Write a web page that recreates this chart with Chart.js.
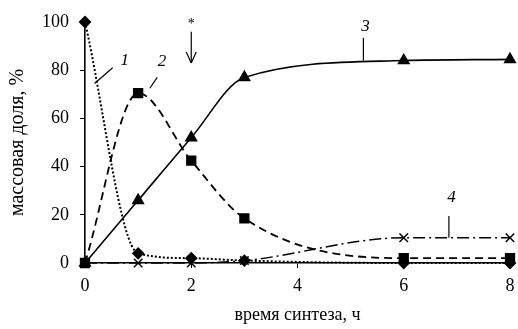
<!DOCTYPE html>
<html>
<head>
<meta charset="utf-8">
<script src="https://cdn.jsdelivr.net/npm/chart.js@4"></script>
<style>
  body { margin: 0; background: #fff; }
  #wrap { width: 518px; height: 329px; }
</style>
</head>
<body>
<div id="wrap"><canvas id="synthGraph"></canvas></div>
<script>
const hours = [0, 1, 2, 3, 6, 8],
      curve1 = [100, 4, 2, 1, 0, 0],
      curve2 = [0, 70.5, 42.5, 18.5, 2, 2],
      curve3 = [0, 26, 52, 77, 84, 84.5],
      curve4 = [0, 0, 0, 1, 10.5, 10.5],
      xTicks = [0, 2, 4, 6, 8],
      yTicks = [0, 20, 40, 60, 80, 100];

const pts = vals => hours.map((h, i) => ({x: h, y: vals[i]}));
const serif = 'Liberation Serif, Times New Roman, serif';

// curve numbers, leaders and the "*" arrow, placed in data units
const notes = {
  id: 'notes',
  afterDatasetsDraw(chart) {
    const {ctx, scales: {x, y}} = chart;
    const P = (a, b) => [x.getPixelForValue(a), y.getPixelForValue(b)];
    const line = (a, b) => {
      ctx.beginPath();
      ctx.moveTo(...a);
      ctx.lineTo(...b);
      ctx.stroke();
    };
    ctx.save();
    ctx.strokeStyle = '#000';
    ctx.fillStyle = '#000';
    ctx.lineWidth = 1.2;
    line(P(0.52, 81), P(0.18, 74.5));
    line(P(1.36, 77), P(1.22, 72.5));
    line(P(5.24, 93.5), P(5.24, 84));
    line(P(6.85, 19.5), P(6.85, 10.5));
    // arrow
    const [ax, ay] = P(2, 96);
    const [, by] = P(2, 83);
    line([ax, ay], [ax, by]);
    line([ax - 5, by - 11], [ax, by]);
    line([ax + 5, by - 11], [ax, by]);
    ctx.font = 'italic 17px ' + serif;
    ctx.textAlign = 'center';
    ctx.textBaseline = 'middle';
    ctx.fillText('1', ...P(0.75, 84));
    ctx.fillText('2', ...P(1.45, 83.5));
    ctx.fillText('3', ...P(5.28, 98));
    ctx.fillText('4', ...P(6.9, 27));
    ctx.font = '14px ' + serif;
    ctx.fillText('*', ...P(2, 99));
    ctx.restore();
  }
};

const base = {
  fill: false,
  clip: false,
  borderColor: '#000',
  backgroundColor: '#000',
  pointBorderColor: '#000',
  pointBackgroundColor: '#000',
  cubicInterpolationMode: 'monotone'
};

new Chart(document.getElementById('synthGraph'), {
  type: 'line',
  data: {
    datasets: [{
      ...base,
      label: '1',
      data: pts(curve1),
      borderWidth: 2,
      borderDash: [2, 2],
      pointStyle: 'rectRot',
      pointRadius: 5
    }, {
      ...base,
      label: '2',
      data: pts(curve2),
      borderWidth: 1.8,
      borderDash: [8, 5],
      pointStyle: 'rect',
      pointRadius: 6
    }, {
      ...base,
      label: '3',
      data: pts(curve3),
      borderWidth: 1.6,
      pointStyle: 'triangle',
      pointRadius: 6
    }, {
      ...base,
      label: '4',
      data: pts(curve4),
      borderWidth: 1.5,
      borderDash: [12, 4, 2, 4],
      pointStyle: 'crossRot',
      pointRadius: 6,
      pointBorderWidth: 1.5
    }]
  },
  options: {
    responsive: true,
    maintainAspectRatio: false,
    animation: false,
    layout: { padding: { top: 22, right: 8, left: 0, bottom: 0 } },
    plugins: {
      legend: { display: false },
      tooltip: { enabled: false }
    },
    scales: {
      x: {
        type: 'linear',
        min: 0,
        max: 8,
        afterBuildTicks: s => { s.ticks = xTicks.map(v => ({value: v})); },
        afterFit: s => { s.height = 66; s.paddingRight = 0; },
        grid: { drawOnChartArea: false, color: '#000', tickLength: 5 },
        border: { color: '#000', width: 1.6 },
        ticks: { color: '#000', padding: 7, font: { family: serif, size: 18 } },
        title: {
          display: true,
          text: 'время синтеза, ч',
          color: '#000',
          padding: { top: 0, bottom: 3 },
          font: { family: serif, size: 18 }
        }
      },
      y: {
        min: 0,
        max: 100,
        afterBuildTicks: s => { s.ticks = yTicks.map(v => ({value: v})); },
        afterFit: s => { s.width = 85; },
        grid: { drawOnChartArea: false, color: '#000', tickLength: 5 },
        border: { color: '#000', width: 1.6 },
        ticks: { color: '#000', padding: 11, font: { family: serif, size: 18 } },
        title: {
          display: true,
          text: 'массовая доля, %',
          color: '#000',
          padding: { top: 6, bottom: 0 },
          font: { family: serif, size: 20 }
        }
      }
    }
  },
  plugins: [notes]
});
</script>
</body>
</html>
